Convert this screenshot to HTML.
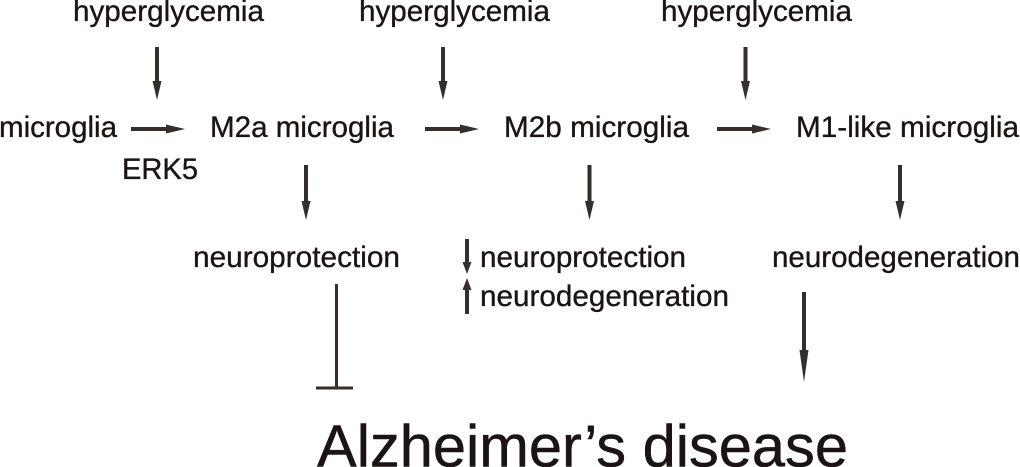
<!DOCTYPE html>
<html>
<head>
<meta charset="utf-8">
<style>
html,body{margin:0;padding:0;background:#fff;width:1020px;height:467px;overflow:hidden}
svg{display:block}
text{font-family:"Liberation Sans",Arial,sans-serif;fill:#1c1412;stroke:#1c1412;stroke-width:.35px;font-size:29.6px}
</style>
</head>
<body>
<svg width="1020" height="467" viewBox="0 0 1020 467" xmlns="http://www.w3.org/2000/svg">
<rect width="1020" height="467" fill="#fff"/>
<text x="73" y="21" textLength="191" lengthAdjust="spacingAndGlyphs">hyperglycemia</text>
<text x="359" y="21" textLength="191" lengthAdjust="spacingAndGlyphs">hyperglycemia</text>
<text x="661" y="21" textLength="191" lengthAdjust="spacingAndGlyphs">hyperglycemia</text>
<text x="-1" y="137" textLength="118" lengthAdjust="spacingAndGlyphs">microglia</text>
<text x="210" y="137" textLength="184" lengthAdjust="spacingAndGlyphs">M2a microglia</text>
<text x="504" y="137" textLength="185" lengthAdjust="spacingAndGlyphs">M2b microglia</text>
<text x="796" y="137" textLength="223" lengthAdjust="spacingAndGlyphs">M1-like microglia</text>
<text x="122" y="179" textLength="76" lengthAdjust="spacingAndGlyphs">ERK5</text>
<text x="193" y="267" textLength="207" lengthAdjust="spacingAndGlyphs">neuroprotection</text>
<text x="480" y="267" textLength="206" lengthAdjust="spacingAndGlyphs">neuroprotection</text>
<text x="480" y="306" textLength="249" lengthAdjust="spacingAndGlyphs">neurodegeneration</text>
<text x="772" y="267" textLength="248" lengthAdjust="spacingAndGlyphs">neurodegeneration</text>
<text x="317" y="466.5" textLength="531" lengthAdjust="spacingAndGlyphs" style="font-size:59.7px;stroke-width:.5px">Alzheimer’s disease</text>

<g fill="#362e2b" stroke="none">
<!-- top down arrows -->
<rect x="155" y="47" width="4" height="36"/><polygon points="152.5,81 161.5,81 157,100"/>
<rect x="441" y="47" width="4" height="36"/><polygon points="438.5,81 447.5,81 443,100"/>
<rect x="743.5" y="47" width="4" height="36"/><polygon points="741,81 750,81 745.5,100"/>
<!-- horizontal arrows -->
<rect x="131" y="127" width="38" height="4"/><polygon points="166,124.5 166,133.5 185,129"/>
<rect x="425" y="127" width="38" height="4"/><polygon points="460,124.5 460,133.5 479,129"/>
<rect x="717" y="127" width="38" height="4"/><polygon points="752,124.5 752,133.5 771,129"/>
<!-- middle down arrows -->
<rect x="304" y="165" width="4" height="38"/><polygon points="301.5,201 310.5,201 306,220"/>
<rect x="587.5" y="165" width="4" height="38"/><polygon points="585,201 594,201 589.5,220"/>
<rect x="898" y="165" width="4" height="38"/><polygon points="895.5,201 904.5,201 900,220"/>
<!-- small arrows -->
<rect x="465" y="239" width="4" height="25"/><polygon points="462.5,262 471.5,262 467,274"/>
<rect x="465" y="288" width="4" height="26"/><polygon points="462.5,290 471.5,290 467,278"/>
<!-- long arrow -->
<rect x="802" y="292" width="4" height="60"/><polygon points="799.5,350 808.5,350 804,382"/>
<!-- inhibition -->
<rect x="335" y="284" width="3" height="104"/>
<rect x="316" y="386.5" width="37" height="3"/>
</g>
</svg>
</body>
</html>
